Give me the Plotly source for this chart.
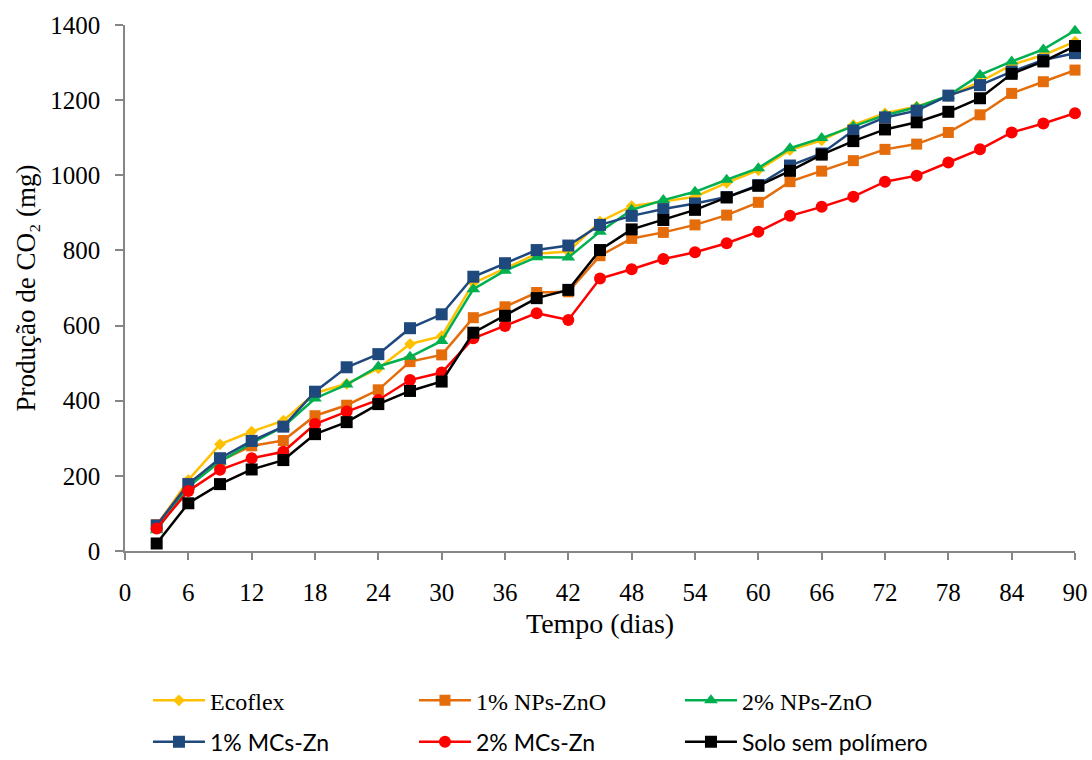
import plotly.graph_objects as go

# Sampling days
dias = [3, 6, 9, 12, 15, 18, 21, 24, 27, 30, 33, 36, 39, 42, 45,
        48, 51, 54, 57, 60, 63, 66, 69, 72, 75, 78, 81, 84, 87, 90]

# Cumulative CO2 production (mg)
ecoflex = [65, 189, 284, 318, 347, 420, 445, 486, 551, 572, 713, 753, 791, 797, 877,
           918, 930, 943, 980, 1014, 1067, 1093, 1134, 1165, 1183, 1210, 1249, 1294, 1320, 1356]
nps_zno_1 = [70, 180, 240, 280, 294, 360, 388, 429, 504, 522, 621, 650, 688, 690, 786,
             832, 848, 868, 894, 928, 983, 1011, 1039, 1069, 1083, 1114, 1161, 1218, 1249, 1280]
nps_zno_2 = [55, 171, 238, 287, 331, 406, 443, 491, 517, 559, 697, 746, 782, 781, 850,
             908, 934, 956, 988, 1019, 1072, 1099, 1130, 1160, 1181, 1212, 1267, 1303, 1335, 1385]
mcs_zn_1 = [68, 178, 247, 293, 331, 424, 489, 524, 593, 630, 730, 766, 801, 813, 868,
            892, 910, 925, 942, 974, 1026, 1058, 1119, 1154, 1172, 1212, 1240, 1276, 1307, 1325]
mcs_zn_2 = [60, 160, 216, 247, 264, 338, 371, 402, 455, 475, 566, 599, 633, 615, 725,
            750, 777, 795, 819, 850, 892, 916, 943, 983, 999, 1034, 1069, 1114, 1138, 1165]
solo = [20, 127, 178, 217, 242, 311, 343, 391, 426, 451, 581, 626, 673, 695, 801,
        856, 881, 908, 941, 972, 1012, 1055, 1091, 1122, 1141, 1169, 1205, 1270, 1303, 1344]

x_ticks = list(range(0, 91, 6))
y_ticks = list(range(0, 1401, 200))

SERIF = "Liberation Serif"
SANS = "Lato"

series = [
    ("Ecoflex", ecoflex, "#FFC000", "diamond", 9, "legend"),
    ("1% NPs-ZnO", nps_zno_1, "#E46C0A", "square", 11, "legend"),
    ("2% NPs-ZnO", nps_zno_2, "#00B050", "triangle-up", 12, "legend"),
    ("1% MCs-Zn", mcs_zn_1, "#1F497D", "square", 12, "legend2"),
    ("2% MCs-Zn", mcs_zn_2, "#FF0000", "circle", 12, "legend2"),
    ("Solo sem polímero", solo, "#000000", "square", 12, "legend2"),
]

fig = go.Figure()
for name, vals, color, symbol, size, leg in series:
    fig.add_trace(go.Scatter(
        x=dias, y=vals, name=name, mode="lines+markers",
        line=dict(color=color, width=2.5),
        marker=dict(color=color, symbol=symbol, size=size),
        cliponaxis=False, legend=leg,
    ))

axis_common = dict(
    showline=True, linecolor="#868686", linewidth=1.5,
    ticks="outside", tickcolor="#868686", tickwidth=1.5,
    showgrid=False, zeroline=False, automargin=False,
    tickfont=dict(family=SERIF, size=25, color="#000000"),
)

legend_common = dict(
    orientation="h", xref="container", yref="container",
    xanchor="left", yanchor="middle",
    entrywidth=199, entrywidthmode="pixels",
    bgcolor="rgba(0,0,0,0)", itemwidth=52,
)

fig.update_layout(
    width=1092, height=760,
    margin=dict(l=125, r=17, t=25, b=209, autoexpand=False),
    paper_bgcolor="white", plot_bgcolor="white",
    font=dict(family=SERIF, color="#000000"),
    xaxis=dict(range=[0, 90], tickvals=x_ticks, ticklen=7, ticklabelstandoff=11,
               **axis_common),
    yaxis=dict(range=[0, 1400], tickvals=y_ticks, ticklen=8, ticklabelstandoff=10,
               title=dict(text="Produção de CO₂ (mg)", font=dict(family=SERIF, size=27), standoff=7),
               **axis_common),
    legend=dict(x=0.1355, y=0.078, font=dict(family=SERIF, size=24, color="#000000"),
                **legend_common),
    legend2=dict(x=0.1355, y=0.024, font=dict(family=SANS, size=23, color="#000000"),
                 **legend_common),
)

# x-axis title placed just under the tick labels
fig.add_annotation(
    text="Tempo (dias)", xref="paper", yref="paper", x=0.5, y=-0.137,
    xanchor="center", yanchor="middle", showarrow=False,
    font=dict(family=SERIF, size=28, color="#000000"),
)

fig.write_html("out.html")
